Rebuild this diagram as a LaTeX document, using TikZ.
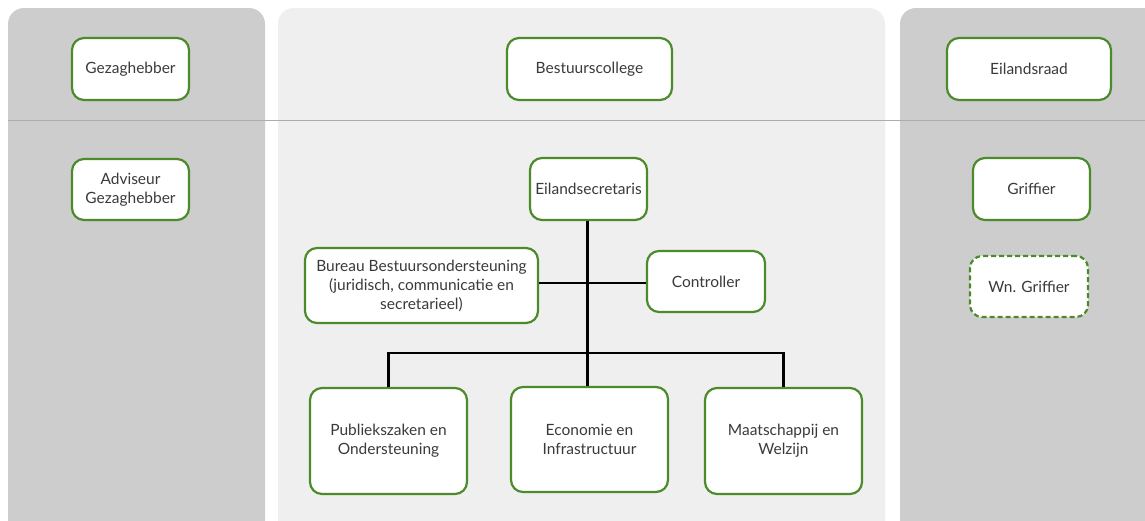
\documentclass[tikz,border=0pt]{standalone}
\usepackage{fontspec}
\setmainfont{Lato}
\begin{document}
\begin{tikzpicture}[x=1pt,y=-1pt,
  box/.style={draw=boxgreen, line width=2.2pt, rounded corners=12pt, fill=white,
    text=textgray, align=center, font=\fontsize{15.5}{19}\selectfont, inner sep=2pt},
  dashbox/.style={box, dash pattern=on 5pt off 3pt},
  conn/.style={draw=black, line width=2.8pt}]
\definecolor{boxgreen}{HTML}{4B8B2B}
\definecolor{textgray}{HTML}{3A3A3A}
\definecolor{darkpanel}{HTML}{CDCDCD}
\definecolor{lightpanel}{HTML}{EFEFEF}
\useasboundingbox (0,0) rectangle (1145,520);
\fill[white] (0,0) rectangle (1145,520);
\begin{scope}
\clip (0,0) rectangle (1145,520);
\fill[darkpanel, rounded corners=16pt] (8,8) rectangle (265,560);
\fill[lightpanel, rounded corners=16pt] (278,8) rectangle (885,560);
\fill[darkpanel, rounded corners=16pt] (900,8) rectangle (1180,560);
\end{scope}
\draw[gray!65, line width=1pt] (8,120) -- (1145,120);

\node[box, minimum width=117pt, minimum height=62pt] (gz) at (130.5,69) {Gezaghebber};
\node[box, minimum width=117pt, minimum height=61pt] (ag) at (130.5,189.5) {Adviseur\\Gezaghebber};
\node[box, minimum width=165pt, minimum height=62pt] (bc) at (589.5,69) {Bestuurscollege};
\node[box, minimum width=164pt, minimum height=62pt] (er) at (1029,69) {Eilandsraad};
\node[box, minimum width=117pt, minimum height=62pt] (gr) at (1031.5,189) {Griffier};
\node[dashbox, minimum width=118pt, minimum height=61pt] (wg) at (1029,286.5) {Wn. Griffier};
\node[box, minimum width=117pt, minimum height=62pt] (es) at (588.5,189) {Eilandsecretaris};
\node[box, minimum width=233pt, minimum height=75pt] (bu) at (421.5,285.5) {Bureau Bestuursondersteuning\\(juridisch, communicatie en\\secretarieel)};
\node[box, minimum width=118pt, minimum height=61pt] (ct) at (706,281.5) {Controller};
\node[box, minimum width=157pt, minimum height=106pt] (pz) at (388.5,441) {Publiekszaken en\\Ondersteuning};
\node[box, minimum width=157pt, minimum height=105pt] (ei) at (589.5,439.5) {Economie en\\Infrastructuur};
\node[box, minimum width=157pt, minimum height=106pt] (mw) at (783.5,441) {Maatschappij en\\Welzijn};

\coordinate (hub) at (587.5,283);
\coordinate (bar) at (587.5,353);
\draw[conn] (es.south -| hub) -- (bar);
\draw[conn] (bu.east |- hub) -- (ct.west |- hub);
\draw[conn] (pz.north) |- (bar) -| (mw.north);
\draw[conn] (bar) -- (ei.north -| bar);
\end{tikzpicture}
\end{document}
